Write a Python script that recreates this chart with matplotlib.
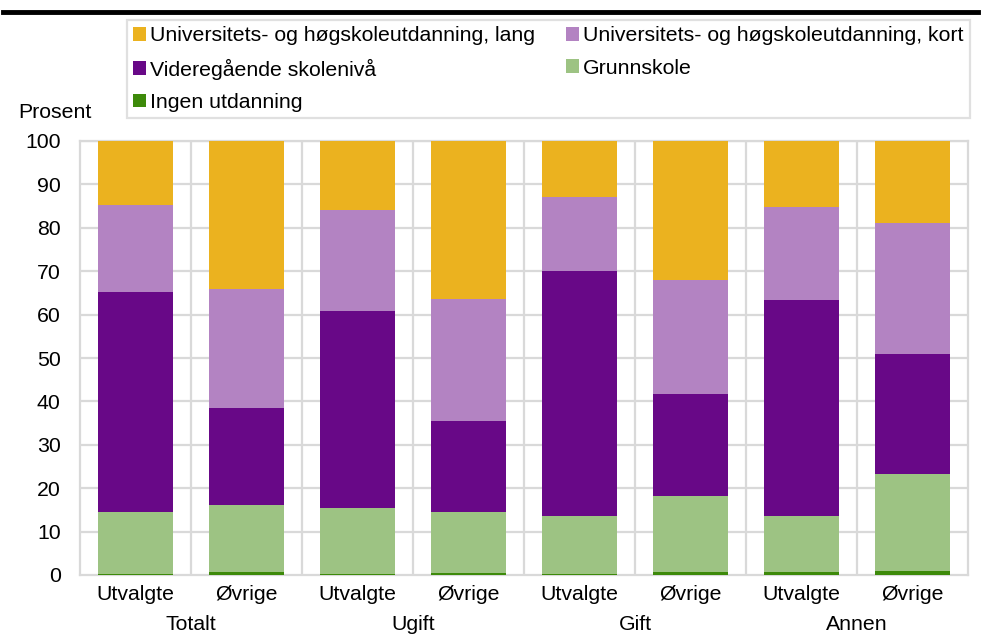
import matplotlib.pyplot as plt
import numpy as np

plt.rcParams['font.family'] = ['Liberation Sans', 'DejaVu Sans']

# data (percent of each group)
groups = ['Totalt', 'Ugift', 'Gift', 'Annen']
subgroups = ['Utvalgte', 'Øvrige']
ingen = [0.3, 0.6, 0.3, 0.5, 0.2, 0.7, 0.6, 0.9]
grunnskole = [14.2, 15.6, 15.1, 14.1, 13.5, 17.4, 12.9, 22.3]
videregaende = [50.8, 22.3, 45.4, 20.9, 56.4, 23.7, 49.9, 27.8]
kort = [20.0, 27.5, 23.2, 28.0, 17.1, 26.2, 21.5, 30.2]
lang = [14.7, 34.0, 16.0, 36.5, 12.8, 32.0, 15.1, 18.8]

series = [
    ('Ingen utdanning', ingen, '#3D8A0A'),
    ('Grunnskole', grunnskole, '#9DC383'),
    ('Videregående skolenivå', videregaende, '#680887'),
    ('Universitets- og høgskoleutdanning, kort', kort, '#B383C2'),
    ('Universitets- og høgskoleutdanning, lang', lang, '#EBB21F'),
]

fs = 15.3
fig = plt.figure(figsize=(9.83, 6.37), dpi=100)
ax = fig.add_axes([80 / 983, 1 - 575 / 637, 888 / 983, 434 / 637])

x = np.arange(len(ingen))
bottom = np.zeros(len(ingen))
handles = {}
for name, vals, col in series:
    b = ax.bar(x, vals, width=0.67, bottom=bottom, color=col, zorder=3, label=name)
    handles[name] = b
    bottom += np.array(vals)

ax.set_xlim(-0.5, len(ingen) - 0.5)
ax.set_ylim(0, 100)
ax.set_yticks(range(0, 101, 10))
ax.set_xticks(x)
ax.set_xticklabels(subgroups * len(groups))
ax.tick_params(length=0, labelsize=fs, colors='black')
ax.tick_params(axis='x', pad=7)
ax.tick_params(axis='y', pad=14)

# grid: horizontal lines at ticks, vertical lines between categories
for yv in range(10, 101, 10):
    ax.axhline(yv, color='#D9D9D9', lw=1.6, zorder=1)
for xv in np.arange(0.5, len(ingen) - 0.5, 1):
    ax.axvline(xv, color='#D9D9D9', lw=1.6, zorder=1)
for s in ax.spines.values():
    s.set_color('#D9D9D9')
    s.set_linewidth(1.6)

for i, g in enumerate(groups):
    ax.text(2 * i + 0.5, -0.092, g, transform=ax.get_xaxis_transform(),
            ha='center', va='top', fontsize=fs)

fig.text(18 / 983, 1 - 112 / 637, 'Prosent', fontsize=fs, ha='left', va='center')

order = ['Universitets- og høgskoleutdanning, lang', 'Videregående skolenivå', 'Ingen utdanning',
         'Universitets- og høgskoleutdanning, kort', 'Grunnskole']
leg = fig.legend([handles[n] for n in order], order, ncol=2, loc='upper left',
                 bbox_to_anchor=(127 / 983, 1 - 20 / 637), fontsize=fs,
                 handlelength=0.6, handleheight=0.6, handletextpad=0.2,
                 columnspacing=1.45, labelspacing=0.62, borderpad=0.3,
                 borderaxespad=0, frameon=True, fancybox=False, edgecolor='#D9D9D9')
leg.get_frame().set_linewidth(1.6)

# thick rule under the (cropped) title
fig.add_artist(plt.Line2D([3 / 983, 978 / 983], [1 - 12 / 637, 1 - 12 / 637],
                          color='black', lw=3.5, transform=fig.transFigure))

fig.savefig('out.png', dpi=100)
